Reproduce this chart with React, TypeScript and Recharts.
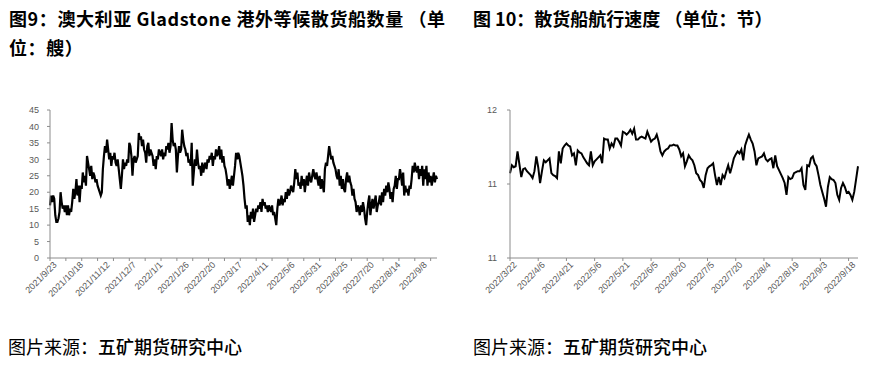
import React from "react";
import { LineChart, Line, XAxis, YAxis } from "recharts";

// Gladstone: ships waiting, daily from 2021/9/23
const SHIPS_START: [number, number, number] = [2021, 9, 23];
const shipsWaiting = [
  16, 19, 17, 19, 18, 13, 11, 11, 12, 14, 20, 17, 15, 16, 14,
  16, 13, 16, 13, 15, 14, 17, 21, 18, 20, 24, 19, 22, 17, 22,
  21, 26, 23, 25, 22, 31, 29, 27, 25, 28, 24, 26, 25, 23, 24,
  22, 21, 20, 19, 20, 27, 31, 34, 32, 36, 33, 30, 32, 28, 31,
  30, 32, 29, 28, 30, 27, 24, 21, 25, 30, 27, 29, 28, 30, 29,
  35, 34, 31, 25, 30, 31, 29, 30, 31, 38, 36, 37, 34, 36, 33,
  32, 29, 34, 35, 31, 33, 32, 31, 28, 30, 27, 31, 30, 33, 32,
  31, 33, 30, 32, 31, 34, 33, 35, 32, 34, 41, 36, 34, 35, 33,
  26, 31, 34, 32, 33, 39, 36, 34, 33, 31, 32, 29, 30, 28, 35,
  22, 26, 30, 28, 33, 29, 27, 28, 25, 29, 26, 28, 29, 27, 30,
  29, 31, 30, 32, 28, 31, 30, 33, 31, 32, 34, 30, 33, 29, 31,
  28, 27, 25, 22, 24, 21, 23, 25, 22, 25, 28, 32, 30, 32, 31,
  29, 27, 25, 22, 18, 15, 16, 11, 13, 10, 14, 12, 15, 11, 13,
  15, 14, 16, 15, 17, 14, 18, 16, 17, 15, 16, 14, 16, 15, 14,
  16, 13, 14, 12, 10, 15, 18, 16, 17, 19, 16, 18, 17, 20, 18,
  21, 19, 20, 22, 21, 20, 23, 27, 24, 26, 22, 23, 21, 25, 22,
  24, 20, 23, 25, 22, 26, 24, 23, 25, 27, 25, 24, 26, 24, 22,
  25, 21, 24, 22, 20, 27, 29, 28, 31, 34, 32, 30, 31, 29, 28,
  27, 25, 24, 27, 22, 25, 21, 24, 21, 20, 24, 26, 23, 25, 23,
  22, 19, 21, 18, 17, 14, 16, 15, 13, 16, 14, 17, 15, 12, 10,
  14, 17, 19, 13, 16, 18, 15, 17, 19, 14, 16, 17, 19, 16, 20,
  17, 21, 19, 22, 20, 23, 21, 18, 20, 17, 21, 22, 25, 21, 24,
  24, 27, 25, 22, 26, 19, 22, 20, 21, 19, 22, 21, 24, 28, 26,
  29, 27, 26, 28, 24, 27, 25, 28, 22, 27, 24, 28, 22, 26, 23,
  25, 22, 24, 26, 23, 25, 24,
];
const shipsTicks = [0, 5, 10, 15, 20, 25, 30, 35, 40, 45];

// bulk carrier speed (knots), daily from 2022/3/22
const SPEED_START: [number, number, number] = [2022, 3, 22];
const shipSpeed = [
  11.36, 11.44, 11.42, 11.43, 11.58, 11.45, 11.32, 11.40, 11.41, 11.38, 11.36, 11.34, 11.31, 11.38, 11.53,
  11.42, 11.26, 11.38, 11.49, 11.47, 11.49, 11.51, 11.36, 11.34, 11.33, 11.31, 11.58, 11.46, 11.61, 11.64,
  11.66, 11.64, 11.63, 11.54, 11.56, 11.44, 11.59, 11.57, 11.56, 11.52, 11.49, 11.46, 11.44, 11.58, 11.44,
  11.48, 11.50, 11.52, 11.54, 11.46, 11.71, 11.70, 11.70, 11.61, 11.66, 11.63, 11.71, 11.71, 11.68, 11.64,
  11.78, 11.77, 11.75, 11.77, 11.80, 11.76, 11.81, 11.70, 11.70, 11.72, 11.73, 11.72, 11.71, 11.78, 11.73,
  11.68, 11.70, 11.71, 11.75, 11.68, 11.58, 11.54, 11.58, 11.60, 11.61, 11.64, 11.64, 11.65, 11.64, 11.64,
  11.60, 11.53, 11.56, 11.43, 11.48, 11.54, 11.51, 11.49, 11.44, 11.36, 11.34, 11.29, 11.27, 11.21, 11.34,
  11.41, 11.43, 11.44, 11.46, 11.34, 11.24, 11.32, 11.24, 11.34, 11.31, 11.38, 11.44, 11.36, 11.43, 11.51,
  11.55, 11.58, 11.56, 11.60, 11.49, 11.64, 11.70, 11.75, 11.70, 11.66, 11.58, 11.44, 11.51, 11.52, 11.53,
  11.56, 11.50, 11.48, 11.50, 11.51, 11.41, 11.54, 11.43, 11.39, 11.35, 11.31, 11.26, 11.14, 11.32, 11.30,
  11.31, 11.36, 11.37, 11.38, 11.38, 11.41, 11.24, 11.19, 11.44, 11.43, 11.51, 11.53, 11.46, 11.43, 11.34,
  11.24, 11.17, 11.10, 11.02, 11.22, 11.32, 11.30, 11.29, 11.26, 11.14, 11.09, 11.21, 11.26, 11.22, 11.16,
  11.17, 11.14, 11.09, 11.17, 11.30, 11.43,
];
const speedTicks = [10.5, 11.25, 12];

const AXIS = "#8c8c8c";
const LABEL = "#595959";
const FONT = "'Liberation Sans', Arial, sans-serif";
const CJK = "'Noto Sans CJK SC', sans-serif";

function dayLabels(start: [number, number, number], n: number) {
  const out: string[] = [];
  for (let i = 0; i < n; i++) {
    const d = new Date(start[0], start[1] - 1, start[2] + i);
    out.push(`${d.getFullYear()}/${d.getMonth() + 1}/${d.getDate()}`);
  }
  return out;
}

const shipsDates = dayLabels(SHIPS_START, shipsWaiting.length);
const speedDates = dayLabels(SPEED_START, shipSpeed.length);
const shipsData = shipsDates.map((date, i) => ({ date, v: shipsWaiting[i] }));
const speedData = speedDates.map((date, i) => ({ date, v: shipSpeed[i] }));

// tick mark every `markEvery` days, slanted label every `labelEvery` days
function DateTick(props: any) {
  const { x, y, payload, dates, markEvery, labelEvery } = props;
  const i = dates.indexOf(payload.value);
  return (
    <g transform={`translate(${x},${y})`}>
      {i % markEvery === 0 && <line x1={0} y1={0} x2={0} y2={3} stroke={AXIS} />}
      {i % labelEvery === 0 && (
        <text
          x={0}
          y={4}
          dy="0.72em"
          textAnchor="end"
          transform="rotate(-45)"
          fontSize={9}
          fill={LABEL}
          fontFamily={FONT}
        >
          {payload.value}
        </text>
      )}
    </g>
  );
}

const yTick = { fontSize: 9, fill: LABEL, fontFamily: FONT };
const title = { position: "absolute" as const, fontSize: 18, fontWeight: 700, lineHeight: "20px", whiteSpace: "nowrap" as const };
const source = { position: "absolute" as const, top: 336, fontSize: 18, lineHeight: "20px", whiteSpace: "nowrap" as const };

export default function App() {
  return (
    <div style={{ position: "relative", width: 875, height: 372, background: "#fff", overflow: "hidden", fontFamily: CJK }}>
      <style>{`body{margin:0}`}</style>

      <div style={{ ...title, left: 9, top: 8, letterSpacing: 0.6 }}>
        图9：澳大利亚 Gladstone 港外等候散货船数量 （单
      </div>
      <div style={{ ...title, left: 9, top: 37, letterSpacing: 0.6 }}>
        位：艘）
      </div>
      <div style={{ ...title, left: 471, top: 8, background: "#fff", paddingLeft: 2 }}>
        图 10：散货船航行速度 （单位：节）
      </div>

      {/* left: waiting ships */}
      <div style={{ position: "absolute", left: 0, top: 100 }}>
        <LineChart width={445} height={230} data={shipsData} margin={{ top: 10, right: 8, bottom: 12, left: 0 }}>
          <XAxis
            dataKey="date"
            interval={4}
            height={60}
            tickSize={0}
            tickMargin={0}
            tickLine={false}
            axisLine={{ stroke: AXIS }}
            tick={(p: any) => <DateTick {...p} dates={shipsDates} markEvery={15} labelEvery={25} />}
          />
          <YAxis
            width={50}
            domain={[0, 45]}
            ticks={shipsTicks}
            interval={0}
            tickSize={3}
            tickMargin={8}
            axisLine={{ stroke: AXIS }}
            tickLine={{ stroke: AXIS }}
            tick={yTick}
          />
          <Line type="linear" dataKey="v" stroke="#000" strokeWidth={2.2} dot={false} isAnimationActive={false} />
        </LineChart>
      </div>

      {/* right: sailing speed */}
      <div style={{ position: "absolute", left: 455, top: 100 }}>
        <LineChart width={410} height={230} data={speedData} margin={{ top: 10, right: 7, bottom: 12, left: 0 }}>
          <XAxis
            dataKey="date"
            interval={14}
            height={60}
            tickSize={0}
            tickMargin={0}
            tickLine={false}
            axisLine={{ stroke: AXIS }}
            tick={(p: any) => <DateTick {...p} dates={speedDates} markEvery={15} labelEvery={15} />}
          />
          <YAxis
            width={55}
            domain={[10.5, 12]}
            ticks={speedTicks}
            interval={0}
            tickSize={3}
            tickMargin={10}
            axisLine={{ stroke: AXIS }}
            tickLine={{ stroke: AXIS }}
            tick={yTick}
            tickFormatter={(v: number) => String(Math.round(v))}
          />
          <Line type="linear" dataKey="v" stroke="#000" strokeWidth={2} dot={false} isAnimationActive={false} />
        </LineChart>
      </div>

      <div style={{ ...source, left: 8 }}>
        图片来源：<span style={{ fontWeight: 500 }}>五矿期货研究中心</span>
      </div>
      <div style={{ ...source, left: 473 }}>
        图片来源：<span style={{ fontWeight: 500 }}>五矿期货研究中心</span>
      </div>
    </div>
  );
}
